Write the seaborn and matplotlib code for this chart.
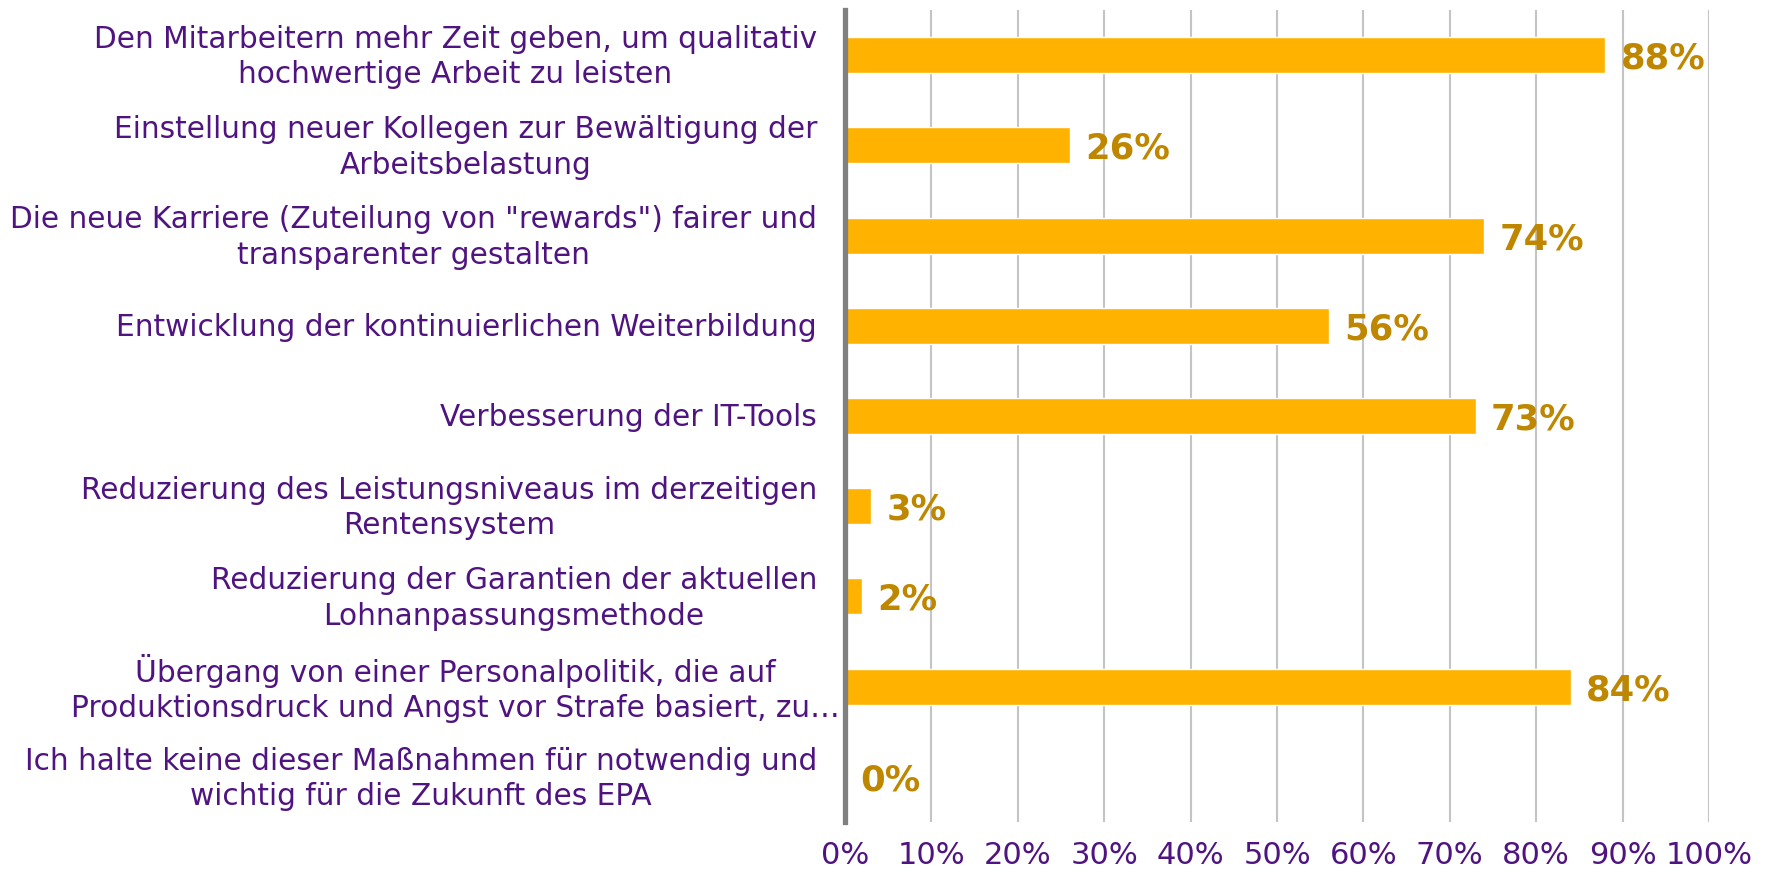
import numpy as np
import pandas as pd
import seaborn as sns
import matplotlib.pyplot as plt
import matplotlib.transforms as mtransforms
from matplotlib.ticker import PercentFormatter

# survey answers (share of respondents)
categories = [
    "Den Mitarbeitern mehr Zeit geben, um qualitativ\nhochwertige Arbeit zu leisten",
    "Einstellung neuer Kollegen zur Bewältigung der\nArbeitsbelastung",
    "Die neue Karriere (Zuteilung von \"rewards\") fairer und\ntransparenter gestalten",
    "Entwicklung der kontinuierlichen Weiterbildung",
    "Verbesserung der IT-Tools",
    "Reduzierung des Leistungsniveaus im derzeitigen\nRentensystem",
    "Reduzierung der Garantien der aktuellen\nLohnanpassungsmethode",
    "Übergang von einer Personalpolitik, die auf\nProduktionsdruck und Angst vor Strafe basiert, zu…",
    "Ich halte keine dieser Maßnahmen für notwendig und\nwichtig für die Zukunft des EPA",
]
shares = [0.88, 0.26, 0.74, 0.56, 0.73, 0.03, 0.02, 0.84, 0.00]
value_labels = ["88%", "26%", "74%", "56%", "73%", "3%", "2%", "84%", "0%"]

df = pd.DataFrame({"Maßnahme": categories, "Anteil": shares})

purple = "#4F1480"
bar_color = "#FFB300"
value_color = "#BF8700"

sns.set_style("white")
plt.rcParams["font.family"] = ["DejaVu Sans"]

fig = plt.figure(figsize=(17.71, 8.80), dpi=100)
ax = fig.add_axes([845 / 1771, 1 - 822 / 880, (1709 - 845) / 1771, (822 - 10) / 880])

sns.barplot(data=df, x="Anteil", y="Maßnahme", color=bar_color,
            width=0.4, saturation=1, ax=ax)

ax.set_xlim(0, 1)
ax.set_ylim(len(categories) - 0.5, -0.5)
ax.set_xticks(np.arange(0, 1.01, 0.1))
ax.xaxis.set_major_formatter(PercentFormatter(1.0, decimals=0))
ax.grid(axis="x", color="#C4C4C4", linewidth=1.5)
ax.grid(axis="y", visible=False)
ax.set_axisbelow(True)

for side in ["top", "right", "bottom"]:
    ax.spines[side].set_visible(False)
ax.spines["left"].set_color("#808080")
ax.spines["left"].set_linewidth(3.8)
ax.spines["left"].set_zorder(5)

ax.tick_params(axis="x", length=0, pad=14, labelsize=22, labelcolor=purple)
ax.tick_params(axis="y", length=0)
ax.set_yticklabels([])

# category labels: right aligned block, lines centred (Excel style)
trans = mtransforms.blended_transform_factory(ax.transAxes, ax.transData)
trans = mtransforms.offset_copy(trans, fig=fig, x=0, y=-2, units="dots")
for i, text in enumerate(categories):
    if text.startswith("Übergang"):
        # overflowing label, centred on the common label centre
        ax.text(-0.451, i, text, transform=trans, ha="center", va="center",
                multialignment="center", fontsize=21.3, color=purple,
                linespacing=1.28)
    else:
        ax.text(-0.0324, i, text, transform=trans, ha="right", va="center",
                multialignment="center", fontsize=21.3, color=purple,
                linespacing=1.28)

anns = ax.bar_label(ax.containers[0], labels=value_labels, padding=11,
                    color=value_color, fontweight="bold", fontsize=25.5)
for a in anns:
    a.xyann = (11, -2.5)

ax.set_xlabel("")
ax.set_ylabel("")
plt.savefig("out.png", dpi=100)
